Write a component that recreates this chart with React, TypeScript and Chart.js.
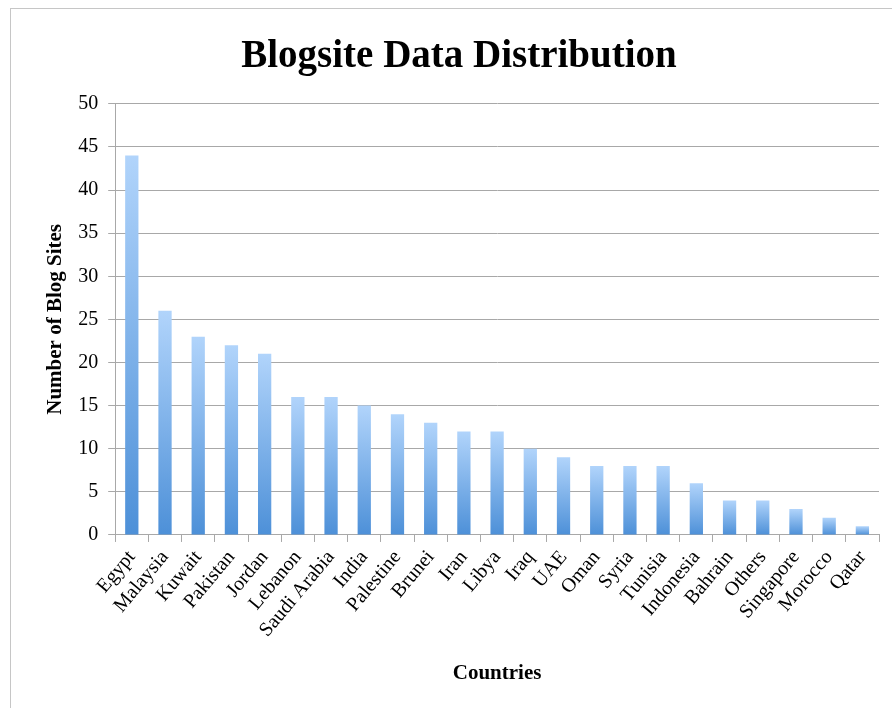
import React, { useEffect, useRef } from "react";
import { Chart, registerables } from "chart.js";

Chart.register(...registerables);

const categories = [
  "Egypt", "Malaysia", "Kuwait", "Pakistan", "Jordan", "Lebanon", "Saudi Arabia",
  "India", "Palestine", "Brunei", "Iran", "Libya", "Iraq", "UAE", "Oman", "Syria",
  "Tunisia", "Indonesia", "Bahrain", "Others", "Singapore", "Morocco", "Qatar",
];
const blogSites = [44, 26, 23, 22, 21, 16, 16, 15, 14, 13, 12, 12, 10, 9, 8, 8, 8, 6, 4, 4, 3, 2, 1];
const yMin = 0;
const yMax = 50;
const yStep = 5;

const titleText = "Blogsite Data Distribution";
const xTitle = "Countries";
const yTitle = "Number of Blog Sites";

const SERIF = "'Liberation Serif', 'Times New Roman', serif";
const GRID = "#a8a8a8";

export default function App() {
  const ref = useRef<HTMLCanvasElement | null>(null);

  useEffect(() => {
    document.body.style.margin = "0";
    document.body.style.overflow = "hidden";
    const canvas = ref.current;
    if (!canvas) return;
    const chart = new Chart(canvas, {
      type: "bar",
      data: {
        labels: categories,
        datasets: [
          {
            label: yTitle,
            data: blogSites,
            barPercentage: 0.4,
            categoryPercentage: 1,
            backgroundColor: (ctx: any) => {
              const c = ctx.chart;
              const ys = c.scales && c.scales.y;
              if (!ys || typeof ctx.raw !== "number") return "#7fb3ea";
              const top = ys.getPixelForValue(ctx.raw);
              const bottom = ys.getPixelForValue(0);
              if (!isFinite(top) || !isFinite(bottom) || bottom - top < 0.5) return "#7fb3ea";
              const g = c.ctx.createLinearGradient(0, top, 0, bottom);
              g.addColorStop(0, "#b1d4fb");
              g.addColorStop(1, "#4d90d8");
              return g;
            },
            borderWidth: 0,
          },
        ],
      },
      options: {
        animation: false,
        responsive: false,
        maintainAspectRatio: false,
        layout: { padding: { left: 28, right: 13, top: 0, bottom: 18 } },
        plugins: {
          legend: { display: false },
          tooltip: { enabled: false },
          title: {
            display: true,
            text: titleText,
            color: "#000",
            font: { family: SERIF, size: 39, weight: "bold" },
            padding: { top: 25, bottom: 23 },
          },
        },
        scales: {
          x: {
            afterFit: (scale: any) => {
              scale.paddingLeft = 0;
              scale.paddingRight = 0;
            },
            grid: {
              display: true,
              offset: true,
              drawOnChartArea: false,
              drawTicks: true,
              tickLength: 7,
              color: GRID,
            },
            border: { display: true, color: GRID, width: 1 },
            ticks: {
              color: "#000",
              font: { family: SERIF, size: 20 },
              minRotation: 50,
              maxRotation: 50,
              autoSkip: false,
              padding: 4,
            },
            title: {
              display: true,
              text: xTitle,
              color: "#000",
              font: { family: SERIF, size: 21, weight: "bold" },
              padding: { top: 15, bottom: 4 },
            },
          },
          y: {
            min: yMin,
            max: yMax,
            grid: {
              color: GRID,
              drawTicks: true,
              tickLength: 7,
            },
            border: { display: true, color: GRID, width: 1 },
            ticks: {
              stepSize: yStep,
              color: "#000",
              font: { family: SERIF, size: 20 },
              padding: 10,
            },
            title: {
              display: true,
              text: yTitle,
              color: "#000",
              font: { family: SERIF, size: 21, weight: "bold" },
              padding: { top: 4, bottom: 0 },
            },
          },
        },
      },
    });
    return () => chart.destroy();
  }, []);

  return (
    <div
      style={{
        position: "absolute",
        left: 10,
        top: 8,
        width: 900,
        height: 720,
        borderLeft: "1px solid #c6c6c6",
        borderTop: "1px solid #c6c6c6",
        background: "#fff",
      }}
    >
      <canvas ref={ref} width={881} height={699} style={{ display: "block", width: 881, height: 699 }} />
    </div>
  );
}
